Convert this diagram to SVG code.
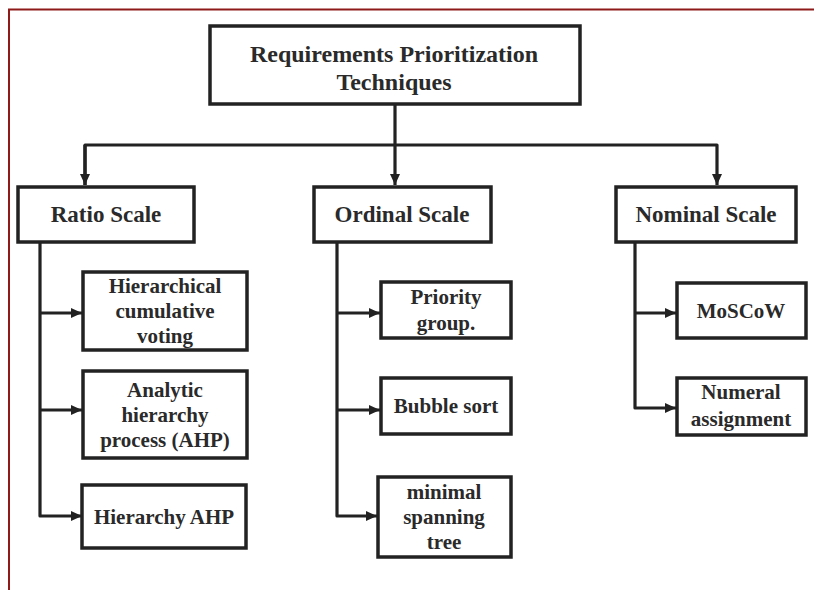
<svg xmlns="http://www.w3.org/2000/svg" width="814" height="590" viewBox="0 0 814 590">
  <style>
    .box { fill: #ffffff; stroke: #222222; stroke-width: 3.5; }
    .lbl { font-family: "Liberation Serif", "Times New Roman", serif; font-weight: bold; fill: #2a2a2a; text-anchor: middle; }
    .title { font-size: 24px; }
    .big { font-size: 23px; }
    .small { font-size: 21px; }
    .wire { fill: none; stroke: #222222; stroke-width: 3.2; stroke-linejoin: round; }
    .frame { fill: none; stroke: #8e1a1a; stroke-width: 2; }
  </style>
  <defs>
    <marker id="arrow" markerUnits="userSpaceOnUse" markerWidth="12" markerHeight="12" refX="11" refY="5" orient="auto">
      <path d="M0,0 L11,5 L0,10 z" fill="#222222"/>
    </marker>
  </defs>

  <rect width="814" height="590" fill="#ffffff"/>
  <!-- page frame -->
  <path class="frame" d="M9,590 V9.5 H814"/>

  <!-- connectors -->
  <g id="connectors">
    <path class="wire" d="M395,104 V185" marker-end="url(#arrow)"/>
    <path class="wire" d="M85,185 V145 H717 V185" marker-end="url(#arrow)"/>
    <path class="wire" d="M85,145 V185" marker-end="url(#arrow)"/>

    <path class="wire" d="M40,242 V516 H82" marker-end="url(#arrow)"/>
    <path class="wire" d="M40,313 H82" marker-end="url(#arrow)"/>
    <path class="wire" d="M40,410 H82" marker-end="url(#arrow)"/>

    <path class="wire" d="M337,243 V516 H377" marker-end="url(#arrow)"/>
    <path class="wire" d="M337,313 H380" marker-end="url(#arrow)"/>
    <path class="wire" d="M337,410 H380" marker-end="url(#arrow)"/>

    <path class="wire" d="M635,242 V408 H676" marker-end="url(#arrow)"/>
    <path class="wire" d="M635,313 H676" marker-end="url(#arrow)"/>
  </g>

  <!-- root -->
  <g id="root">
    <rect class="box" x="210" y="26" width="370" height="78"/>
    <text class="lbl title" x="394" y="62">Requirements Prioritization</text>
    <text class="lbl title" x="394" y="90">Techniques</text>
  </g>

  <!-- scales -->
  <g id="ratio-scale">
    <rect class="box" x="18" y="187" width="176" height="55"/>
    <text class="lbl big" x="106" y="222">Ratio Scale</text>
  </g>
  <g id="ordinal-scale">
    <rect class="box" x="314" y="187" width="177" height="55"/>
    <text class="lbl big" x="402" y="222">Ordinal Scale</text>
  </g>
  <g id="nominal-scale">
    <rect class="box" x="616" y="187" width="180" height="55"/>
    <text class="lbl big" x="706" y="222">Nominal Scale</text>
  </g>

  <!-- ratio scale techniques -->
  <g id="hierarchical-cumulative-voting">
    <rect class="box" x="83" y="272" width="164" height="78"/>
    <text class="lbl small" x="165" y="293">Hierarchical</text>
    <text class="lbl small" x="165" y="318">cumulative</text>
    <text class="lbl small" x="165" y="343">voting</text>
  </g>
  <g id="ahp">
    <rect class="box" x="83" y="371" width="164" height="87"/>
    <text class="lbl small" x="165" y="397">Analytic</text>
    <text class="lbl small" x="165" y="422">hierarchy</text>
    <text class="lbl small" x="165" y="447">process (AHP)</text>
  </g>
  <g id="hierarchy-ahp">
    <rect class="box" x="82" y="485" width="164" height="63"/>
    <text class="lbl small" x="164" y="524">Hierarchy AHP</text>
  </g>

  <!-- ordinal scale techniques -->
  <g id="priority-group">
    <rect class="box" x="381" y="282" width="130" height="56"/>
    <text class="lbl small" x="446" y="304">Priority</text>
    <text class="lbl small" x="446" y="330">group.</text>
  </g>
  <g id="bubble-sort">
    <rect class="box" x="381" y="378" width="130" height="56"/>
    <text class="lbl small" x="446" y="413">Bubble sort</text>
  </g>
  <g id="minimal-spanning-tree">
    <rect class="box" x="378" y="477" width="133" height="80"/>
    <text class="lbl small" x="444" y="499">minimal</text>
    <text class="lbl small" x="444" y="524">spanning</text>
    <text class="lbl small" x="444" y="549">tree</text>
  </g>

  <!-- nominal scale techniques -->
  <g id="moscow">
    <rect class="box" x="677" y="283" width="129" height="55"/>
    <text class="lbl small" x="741" y="318">MoSCoW</text>
  </g>
  <g id="numeral-assignment">
    <rect class="box" x="677" y="378" width="129" height="57"/>
    <text class="lbl small" x="741" y="399">Numeral</text>
    <text class="lbl small" x="741" y="426">assignment</text>
  </g>
</svg>
